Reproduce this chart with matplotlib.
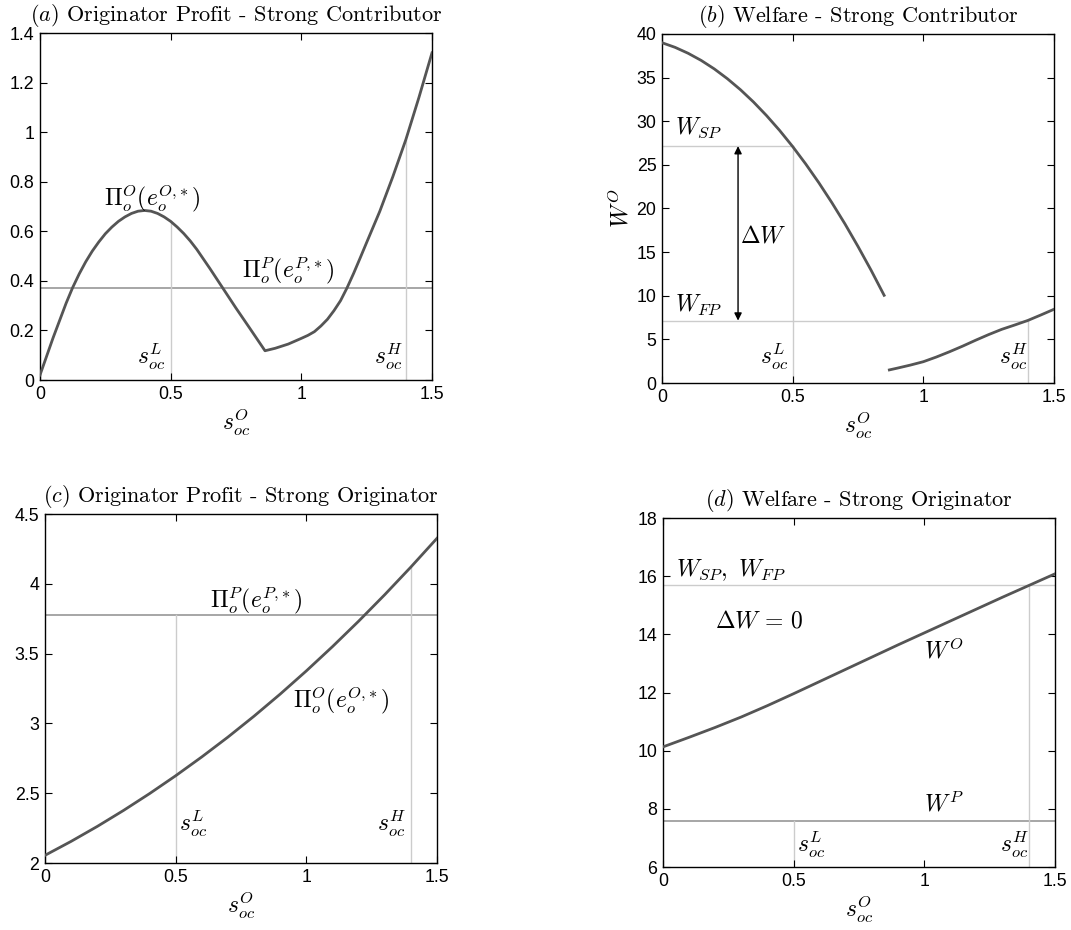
import matplotlib
matplotlib.use("Agg")
import matplotlib.pyplot as plt

plt.rcParams['mathtext.fontset'] = 'cm'
plt.rcParams['font.family'] = ['Liberation Sans', 'DejaVu Sans']

# ---------------- data ----------------
# (a) Originator profit - strong contributor
a_x = [0, 0.025, 0.05, 0.075, 0.1, 0.125, 0.15, 0.175, 0.2, 0.225, 0.25, 0.275, 0.3, 0.325, 0.35, 0.375,
       0.4, 0.425, 0.45, 0.475, 0.5, 0.525, 0.55, 0.575, 0.6, 0.65, 0.7, 0.75, 0.8, 0.861,
       0.9, 0.95, 1.0, 1.025, 1.05, 1.075, 1.1, 1.125, 1.15, 1.175, 1.2, 1.225, 1.25, 1.3, 1.35, 1.4, 1.45, 1.5]
a_y = [0.02, 0.095, 0.17, 0.24, 0.31, 0.373, 0.428, 0.477, 0.52, 0.557, 0.59, 0.617, 0.64, 0.658, 0.672, 0.681,
       0.684, 0.681, 0.672, 0.658, 0.64, 0.617, 0.591, 0.561, 0.527, 0.45, 0.37, 0.29, 0.213, 0.118,
       0.128, 0.145, 0.168, 0.18, 0.195, 0.218, 0.245, 0.28, 0.32, 0.372, 0.43, 0.492, 0.555, 0.68, 0.82,
       0.97, 1.14, 1.32]
a_pi_p = 0.37
a_sL_y = 0.64
a_sH_y = 0.97

# (b) Welfare - strong contributor
b_x1 = [0, 0.05, 0.1, 0.15, 0.2, 0.25, 0.3, 0.35, 0.4, 0.45, 0.5, 0.55, 0.6, 0.65, 0.7, 0.75, 0.8, 0.85]
b_y1 = [39.0, 38.47, 37.79, 36.97, 36.0, 34.88, 33.62, 32.21, 30.65, 28.95, 27.1, 25.1, 22.96, 20.67,
        18.24, 15.65, 12.93, 10.05]
b_x2 = [0.87, 0.9, 0.95, 1.0, 1.05, 1.1, 1.15, 1.2, 1.25, 1.3, 1.35, 1.4, 1.45, 1.5]
b_y2 = [1.5, 1.7, 2.05, 2.44, 2.98, 3.58, 4.22, 4.9, 5.55, 6.15, 6.65, 7.17, 7.8, 8.45]
b_wsp = 27.15
b_wfp = 7.15

# (c) Originator profit - strong originator
c_x = [0, 0.1, 0.2, 0.3, 0.4, 0.5, 0.6, 0.7, 0.8, 0.9, 1.0, 1.1, 1.2, 1.3, 1.4, 1.5]
c_y = [2.055, 2.155, 2.262, 2.376, 2.497, 2.625, 2.76, 2.902, 3.052, 3.21, 3.376, 3.55, 3.732, 3.922, 4.12, 4.326]
c_pi_p = 3.78
c_sH_y = 4.12

# (d) Welfare - strong originator
d_x = [0, 0.1, 0.2, 0.3, 0.4, 0.5, 0.6, 0.7, 0.8, 0.9, 1.0, 1.1, 1.2, 1.3, 1.4, 1.5]
d_y = [10.13, 10.46, 10.8, 11.16, 11.55, 11.96, 12.38, 12.8, 13.22, 13.64, 14.05, 14.46, 14.87, 15.28, 15.68, 16.08]
d_wsp = 15.68
d_wp = 7.57

s_L = 0.5
s_H = 1.4

x_ticks = [0, 0.5, 1, 1.5]
x_ticklabels = ['0', '0.5', '1', '1.5']

# ---------------- style ----------------
CURVE = '#555555'
LIGHT = '#cccccc'
MID = '#a6a6a6'
TXT = 17
TICK = 12.8

fig = plt.figure(figsize=(10.71, 9.3), dpi=100)
W, H = 1071, 930

def make_ax(l, t, r, b):
    return fig.add_axes([l / W, 1 - b / H, (r - l) / W, (b - t) / H])

axA = make_ax(40, 33, 432, 380)
axB = make_ax(662, 34, 1054, 383)
axC = make_ax(45, 514, 437, 863)
axD = make_ax(663, 518, 1055, 867)

def style(ax, ylim, yticks, yticklabels, title):
    ax.set_xlim(0, 1.5)
    ax.set_ylim(*ylim)
    ax.set_xticks(x_ticks)
    ax.set_xticklabels(x_ticklabels)
    ax.set_yticks(yticks)
    ax.set_yticklabels(yticklabels)
    ax.tick_params(direction='in', top=True, right=True, length=5, width=0.8,
                   labelsize=TICK, pad=4)
    for s in ax.spines.values():
        s.set_linewidth(1.0)
    ax.set_xlabel(r'$s_{oc}^{O}$', fontsize=TXT, labelpad=3)
    ax.set_title(title, family='cmr10', fontsize=16, pad=9)

LW = 2.0

# (a)
axA.axhline(a_pi_p, color=MID, lw=1.4, zorder=1)
axA.plot([s_L, s_L], [0, a_sL_y], color=LIGHT, lw=1.0, zorder=1)
axA.plot([s_H, s_H], [0, a_sH_y], color=LIGHT, lw=1.0, zorder=1)
axA.plot(a_x, a_y, color=CURVE, lw=LW, zorder=3, solid_joinstyle='round')
axA.text(0.43, 0.735, r'$\Pi_o^O(e_o^{O,\!*})$', fontsize=TXT, ha='center', va='center')
axA.text(0.95, 0.437, r'$\Pi_o^P(e_o^{P,\!*})$', fontsize=TXT, ha='center', va='center')
axA.text(0.425, 0.094, r'$s_{oc}^{L}$', fontsize=TXT, ha='center', va='center')
axA.text(1.335, 0.094, r'$s_{oc}^{H}$', fontsize=TXT, ha='center', va='center')
style(axA, (0, 1.4), [0, 0.2, 0.4, 0.6, 0.8, 1, 1.2, 1.4],
      ['0', '0.2', '0.4', '0.6', '0.8', '1', '1.2', '1.4'],
      r'$(a)$ Originator Profit - Strong Contributor')

# (b)
axB.plot([0, s_L], [b_wsp, b_wsp], color=LIGHT, lw=1.0, zorder=1)
axB.plot([0, s_H], [b_wfp, b_wfp], color=LIGHT, lw=1.0, zorder=1)
axB.plot([s_L, s_L], [0, b_wsp], color=LIGHT, lw=1.0, zorder=1)
axB.plot([s_H, s_H], [0, b_wfp], color=LIGHT, lw=1.0, zorder=1)
axB.plot(b_x1, b_y1, color=CURVE, lw=LW, zorder=3, solid_joinstyle='round')
axB.plot(b_x2, b_y2, color=CURVE, lw=LW, zorder=3, solid_joinstyle='round')
axB.annotate('', xy=(0.291, b_wsp), xytext=(0.291, b_wfp),
             arrowprops=dict(arrowstyle='<|-|>', color='black', lw=1.0,
                             mutation_scale=11, shrinkA=0, shrinkB=0))
axB.text(0.05, 29.3, r'$W_{SP}$', fontsize=TXT, ha='left', va='center')
axB.text(0.05, 8.9, r'$W_{FP}$', fontsize=TXT, ha='left', va='center')
axB.text(0.30, 16.8, r'$\Delta W$', fontsize=TXT, ha='left', va='center')
axB.text(0.428, 3.0, r'$s_{oc}^{L}$', fontsize=TXT, ha='center', va='center')
axB.text(1.344, 3.0, r'$s_{oc}^{H}$', fontsize=TXT, ha='center', va='center')
style(axB, (0, 40), [0, 5, 10, 15, 20, 25, 30, 35, 40],
      ['0', '5', '10', '15', '20', '25', '30', '35', '40'],
      r'$(b)$ Welfare - Strong Contributor')
axB.set_ylabel(r'$W^{O}$', fontsize=TXT, labelpad=2)

# (c)
axC.axhline(c_pi_p, color=MID, lw=1.4, zorder=1)
axC.plot([s_L, s_L], [2, c_pi_p], color=LIGHT, lw=1.0, zorder=1)
axC.plot([s_H, s_H], [2, c_sH_y], color=LIGHT, lw=1.0, zorder=1)
axC.plot(c_x, c_y, color=CURVE, lw=LW, zorder=3, solid_joinstyle='round')
axC.text(0.81, 3.873, r'$\Pi_o^P(e_o^{P,\!*})$', fontsize=TXT, ha='center', va='center')
axC.text(1.135, 3.167, r'$\Pi_o^O(e_o^{O,\!*})$', fontsize=TXT, ha='center', va='center')
axC.text(0.568, 2.28, r'$s_{oc}^{L}$', fontsize=TXT, ha='center', va='center')
axC.text(1.328, 2.28, r'$s_{oc}^{H}$', fontsize=TXT, ha='center', va='center')
style(axC, (2, 4.5), [2, 2.5, 3, 3.5, 4, 4.5],
      ['2', '2.5', '3', '3.5', '4', '4.5'],
      r'$(c)$ Originator Profit - Strong Originator')

# (d)
axD.axhline(d_wsp, color=LIGHT, lw=1.0, zorder=1)
axD.axhline(d_wp, color=MID, lw=1.4, zorder=1)
axD.plot([s_L, s_L], [6, d_wp], color=LIGHT, lw=1.0, zorder=1)
axD.plot([s_H, s_H], [6, d_wsp], color=LIGHT, lw=1.0, zorder=1)
axD.plot(d_x, d_y, color=CURVE, lw=LW, zorder=3, solid_joinstyle='round')
axD.text(0.05, 16.2, r'$W_{SP},\ W_{FP}$', fontsize=TXT, ha='left', va='center')
axD.text(0.198, 14.45, r'$\Delta W\, =\, 0$', fontsize=TXT, ha='left', va='center')
axD.text(1.0, 13.45, r'$W^{O}$', fontsize=TXT, ha='left', va='center')
axD.text(1.0, 8.15, r'$W^{P}$', fontsize=TXT, ha='left', va='center')
axD.text(0.567, 6.77, r'$s_{oc}^{L}$', fontsize=TXT, ha='center', va='center')
axD.text(1.345, 6.77, r'$s_{oc}^{H}$', fontsize=TXT, ha='center', va='center')
style(axD, (6, 18), [6, 8, 10, 12, 14, 16, 18],
      ['6', '8', '10', '12', '14', '16', '18'],
      r'$(d)$ Welfare - Strong Originator')

fig.savefig('out.png', dpi=100)
